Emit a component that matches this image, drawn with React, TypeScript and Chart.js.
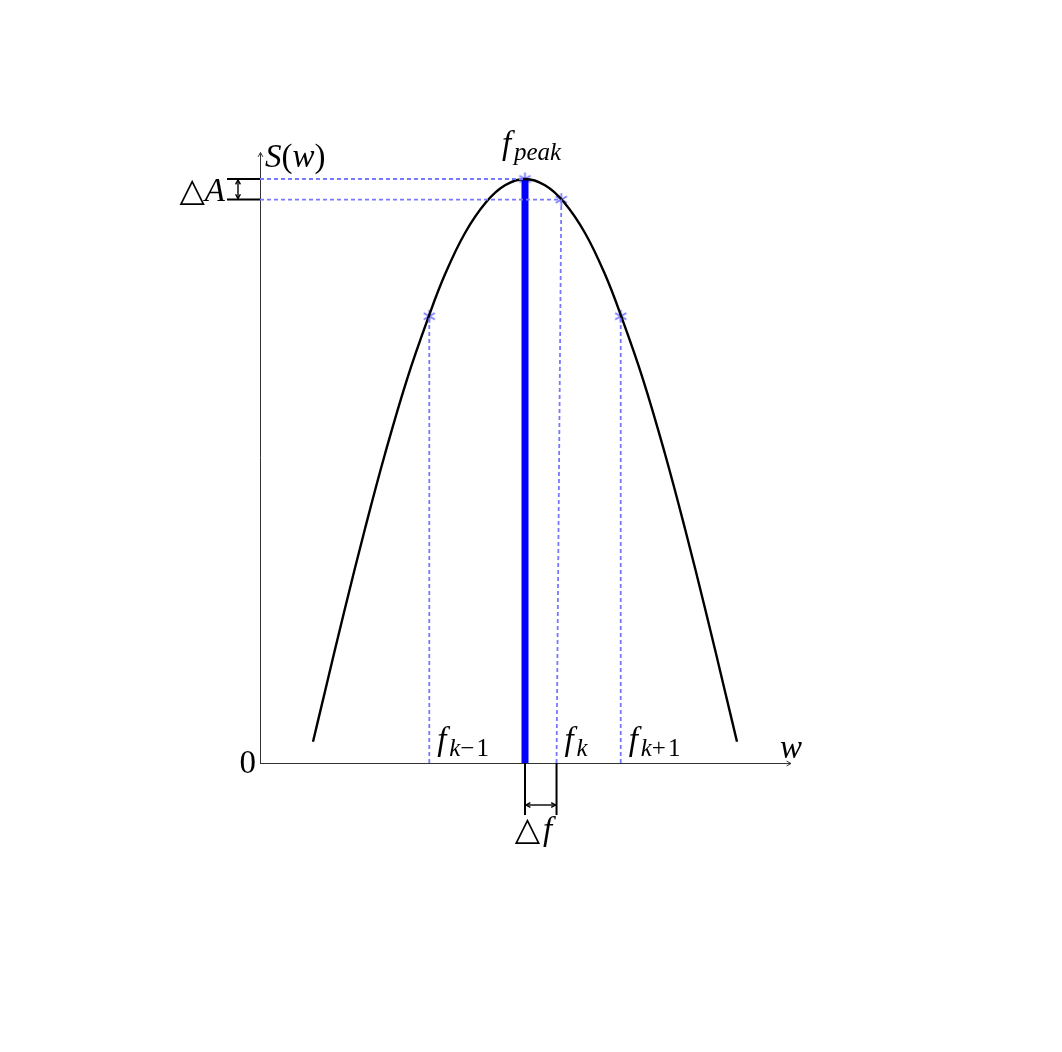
import React, { useEffect, useRef } from "react";
import { Chart, registerables } from "chart.js";

Chart.register(...registerables);

// ---- data ----
const curveX = [1.0, 1.226, 1.604, 1.981, 2.358, 2.774, 3.189, 3.491, 3.868, 4.264, 4.623, 5.0, 5.377, 5.736, 6.132, 6.509, 6.811, 7.226, 7.642, 8.019, 8.396, 8.774, 9.0];
const curveY = [0.40, 1.35, 2.92, 4.42, 5.83, 7.24, 8.44, 9.22, 10.0, 10.58, 10.90, 11.019, 10.90, 10.58, 10.0, 9.22, 8.44, 7.24, 5.83, 4.42, 2.92, 1.35, 0.40];

const fPeak = 5.0;
const peakAmp = 11.019;
const binFreqs = [3.194, 5.595, 6.806]; // f_{k-1}, f_k, f_{k+1}
const binSubs = ["k−1", "k", "k+1"];
const markerX = [5.0, 5.685, 3.194, 6.806];
const markerY = [11.019, 10.63, 8.43, 8.43];
const xMax = 10;
const yMax = 11.5;

const SERIF = '"Liberation Serif", "DejaVu Serif", serif';
const DASH_BLUE = "#7878ff";

type Part = [string, "i" | "r" | "si" | "sr"];

function fontFor(style: string) {
  const italic = style === "i" || style === "si";
  const size = style === "i" || style === "r" ? 33 : 25;
  return `${italic ? "italic " : ""}${size}px ${SERIF}`;
}

function drawMath(ctx: CanvasRenderingContext2D, x: number, y: number, parts: Part[], align: "left" | "center" | "right" = "left") {
  let total = 0;
  for (const [t, s] of parts) {
    ctx.font = fontFor(s);
    total += ctx.measureText(t).width;
  }
  let cx = align === "left" ? x : align === "center" ? x - total / 2 : x - total;
  ctx.textAlign = "left";
  ctx.textBaseline = "alphabetic";
  ctx.fillStyle = "#000";
  for (const [t, s] of parts) {
    ctx.font = fontFor(s);
    const dy = s === "si" || s === "sr" ? 6 : 0;
    ctx.fillText(t, cx, y + dy);
    cx += ctx.measureText(t).width;
  }
}

function arrowHead(ctx: CanvasRenderingContext2D, x: number, y: number, angle: number, size = 6) {
  ctx.beginPath();
  ctx.moveTo(x - size * Math.cos(angle - 0.5), y - size * Math.sin(angle - 0.5));
  ctx.lineTo(x, y);
  ctx.lineTo(x - size * Math.cos(angle + 0.5), y - size * Math.sin(angle + 0.5));
  ctx.stroke();
}

function makeAsterisk(): HTMLCanvasElement {
  const c = document.createElement("canvas");
  c.width = 17;
  c.height = 17;
  const g = c.getContext("2d")!;
  g.strokeStyle = DASH_BLUE;
  g.lineWidth = 1.7;
  const r = 6.5;
  for (const a of [90, 30, 150]) {
    const rad = (a * Math.PI) / 180;
    g.beginPath();
    g.moveTo(8.5 - r * Math.cos(rad), 8.5 - r * Math.sin(rad));
    g.lineTo(8.5 + r * Math.cos(rad), 8.5 + r * Math.sin(rad));
    g.stroke();
  }
  return c;
}

const axesPlugin = {
  id: "axesPlugin",
  beforeDatasetsDraw(chart: any) {
    const ctx = chart.ctx as CanvasRenderingContext2D;
    const xs = chart.scales.x;
    const ys = chart.scales.y;
    const x0 = xs.getPixelForValue(0);
    const y0 = ys.getPixelForValue(0);
    const xEnd = xs.getPixelForValue(xMax) + 1;
    const yEnd = ys.getPixelForValue(yMax) - 1;
    ctx.save();
    ctx.strokeStyle = "#333";
    ctx.lineWidth = 1;
    ctx.beginPath();
    ctx.moveTo(x0, y0 + 0.5);
    ctx.lineTo(xEnd, y0 + 0.5);
    ctx.moveTo(x0 + 0.5, y0);
    ctx.lineTo(x0 + 0.5, yEnd);
    ctx.stroke();
    arrowHead(ctx, xEnd, y0 + 0.5, 0, 5);
    arrowHead(ctx, x0 + 0.5, yEnd, -Math.PI / 2, 5);
    ctx.restore();
  },
  afterDatasetsDraw(chart: any) {
    const ctx = chart.ctx as CanvasRenderingContext2D;
    const xs = chart.scales.x;
    const ys = chart.scales.y;
    const x0 = xs.getPixelForValue(0);
    const y0 = ys.getPixelForValue(0);
    ctx.save();
    // Delta A bracket
    const yA1 = ys.getPixelForValue(markerY[0]);
    const yA2 = ys.getPixelForValue(markerY[1]);
    ctx.strokeStyle = "#000";
    ctx.lineWidth = 2;
    ctx.beginPath();
    ctx.moveTo(x0 - 33, yA1);
    ctx.lineTo(x0, yA1);
    ctx.moveTo(x0 - 33, yA2);
    ctx.lineTo(x0, yA2);
    ctx.stroke();
    ctx.lineWidth = 1.4;
    const ax = x0 - 22;
    ctx.beginPath();
    ctx.moveTo(ax, yA1 + 1);
    ctx.lineTo(ax, yA2 - 1);
    ctx.stroke();
    arrowHead(ctx, ax, yA1 + 1, -Math.PI / 2, 5);
    arrowHead(ctx, ax, yA2 - 1, Math.PI / 2, 5);
    drawMath(ctx, x0 - 35, yA2 + 1, [["△", "r"], ["A", "i"]], "right");

    // Delta f bracket
    const xf1 = xs.getPixelForValue(fPeak);
    const xf2 = xs.getPixelForValue(binFreqs[1]);
    ctx.lineWidth = 2;
    ctx.beginPath();
    ctx.moveTo(xf1, y0);
    ctx.lineTo(xf1, y0 + 52);
    ctx.moveTo(xf2, y0);
    ctx.lineTo(xf2, y0 + 52);
    ctx.stroke();
    ctx.lineWidth = 1.4;
    const fy = y0 + 42;
    ctx.beginPath();
    ctx.moveTo(xf1 + 1, fy);
    ctx.lineTo(xf2 - 1, fy);
    ctx.stroke();
    arrowHead(ctx, xf1 + 1, fy, Math.PI, 5);
    arrowHead(ctx, xf2 - 1, fy, 0, 5);
    drawMath(ctx, (xf1 + xf2) / 2 - 4, y0 + 77, [["△", "r"], ["\u200A", "r"], ["f", "i"], ["\u2009", "r"]], "center");

    // axis labels
    drawMath(ctx, x0 + 5, ys.getPixelForValue(yMax) + 13, [["S", "i"], ["(", "r"], ["w", "i"], [")", "r"]]);
    drawMath(ctx, xs.getPixelForValue(xMax) - 10, y0 - 5, [["w", "i"]]);
    drawMath(ctx, x0 - 4, y0 + 10, [["0", "r"]], "right");
    drawMath(ctx, xs.getPixelForValue(fPeak) - 23, ys.getPixelForValue(peakAmp) - 25, [["f", "i"], ["\u200A", "r"], ["peak", "si"]]);
    binFreqs.forEach((f, i) => {
      const sub = binSubs[i];
      const parts: Part[] = [["f", "i"], ["\u200A", "r"]];
      const m = sub.match(/^(k)(.*)$/);
      if (m) {
        parts.push([m[1], "si"]);
        if (m[2]) parts.push([m[2].split("").join("\u200A"), "sr"]);
      }
      drawMath(ctx, xs.getPixelForValue(f) + 8, y0 - 13, parts);
    });
    ctx.restore();
  },
};

export default function App() {
  const ref = useRef<HTMLCanvasElement | null>(null);
  useEffect(() => {
    if (!ref.current) return;
    const star = makeAsterisk();
    const seg = (pts: { x: number; y: number }[], color: string, width: number, dash: number[] = []) => ({
      type: "line" as const,
      data: pts,
      borderColor: color,
      borderWidth: width,
      borderDash: dash,
      pointRadius: 0,
      fill: false,
      tension: 0,
      clip: false as any,
    });
    const curve = curveX.map((x, i) => ({ x, y: curveY[i] }));
    const dash = [4, 3];
    const datasets: any[] = [
      seg([{ x: 0, y: markerY[0] }, { x: markerX[0], y: markerY[0] }], DASH_BLUE, 1.8, dash),
      seg([{ x: 0, y: markerY[1] }, { x: markerX[1], y: markerY[1] }], DASH_BLUE, 1.8, dash),
      seg([{ x: binFreqs[0], y: 0 }, { x: markerX[2], y: markerY[2] }], DASH_BLUE, 1.8, dash),
      seg([{ x: binFreqs[1], y: 0 }, { x: markerX[1], y: markerY[1] }], DASH_BLUE, 1.8, dash),
      seg([{ x: binFreqs[2], y: 0 }, { x: markerX[3], y: markerY[3] }], DASH_BLUE, 1.8, dash),
      {
        ...seg(curve, "#000", 2.4),
        tension: 0.4,
      },
      seg([{ x: fPeak, y: 0 }, { x: fPeak, y: peakAmp }], "#0000ff", 7),
      {
        type: "scatter",
        data: markerX.map((x, i) => ({ x, y: markerY[i] })),
        pointStyle: star,
        pointRadius: 8,
        clip: false,
      },
    ];
    const chart = new Chart(ref.current, {
      type: "line",
      data: { datasets },
      options: {
        animation: false,
        responsive: false,
        layout: { padding: { left: 260, right: 272, top: 153.5, bottom: 289 } },
        plugins: { legend: { display: false }, tooltip: { enabled: false }, title: { display: false } },
        scales: {
          x: { type: "linear", min: 0, max: xMax, display: false },
          y: { type: "linear", min: 0, max: yMax, display: false },
        },
      },
      plugins: [axesPlugin],
    });
    return () => chart.destroy();
  }, []);
  return (
    <div style={{ position: "absolute", left: 0, top: 0, width: 1062, height: 1052, background: "#fff" }}>
      <canvas ref={ref} width={1062} height={1052} style={{ display: "block" }} />
    </div>
  );
}
